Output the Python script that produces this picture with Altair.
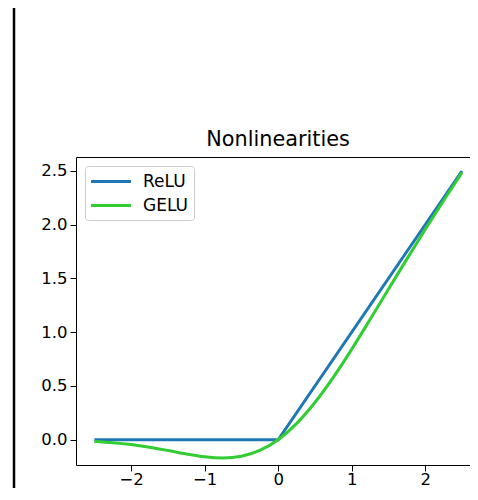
import altair as alt
import pandas as pd

# ReLU (piecewise linear)
relu_x = [-2.5, 0.0, 2.5]
relu_y = [0.0, 0.0, 2.5]

# GELU values
gelu_x = [-2.5, -2.25, -2.0, -1.75, -1.5, -1.25, -1.0, -0.75, -0.5, -0.25, 0.0,
          0.25, 0.5, 0.75, 1.0, 1.25, 1.5, 1.75, 2.0, 2.25, 2.5]
gelu_y = [-0.016, -0.027, -0.045, -0.070, -0.100, -0.132, -0.159, -0.170, -0.154, -0.100, 0.0,
          0.150, 0.346, 0.580, 0.841, 1.118, 1.400, 1.680, 1.955, 2.223, 2.484]

series = ["ReLU", "GELU"]
colors = ["#1f77b4", "#32cd32"]
x_ticks = [-2, -1, 0, 1, 2]
y_ticks = [0.0, 0.5, 1.0, 1.5, 2.0, 2.5]
title_text = "Nonlinearities"

relu_df = pd.DataFrame({"x": relu_x, "y": relu_y, "series": "ReLU"})
gelu_df = pd.DataFrame({"x": gelu_x, "y": gelu_y, "series": "GELU"})

FONT = "DejaVu Sans"
W, H = 394, 308

xscale = alt.Scale(domain=[-2.75, 2.61], nice=False, zero=False)
yscale = alt.Scale(domain=[-0.235, 2.63], nice=False, zero=False)

xaxis = alt.Axis(orient="bottom", values=x_ticks, title=None, grid=False, format="d",
                 labelExpr="replace(datum.label, '-', '\u2212')",
                 domainColor="black", tickColor="black", tickSize=6,
                 labelColor="black", labelFontSize=16.5, labelFont=FONT,
                 labelPadding=0, domainWidth=1, tickWidth=1)
yaxis = alt.Axis(values=y_ticks, title=None, grid=False, format=".1f",
                 domainColor="black", tickColor="black", tickSize=6,
                 labelColor="black", labelFontSize=16.5, labelFont=FONT,
                 labelPadding=3, domainWidth=1, tickWidth=1)

color = alt.Color("series:N", scale=alt.Scale(domain=series, range=colors),
                  legend=alt.Legend(title=None, orient="none", legendX=9, legendY=9,
                                    symbolType="M-1.19,0H3.81", symbolStrokeWidth=3,
                                    symbolSize=256, labelFontSize=17, labelFont=FONT,
                                    labelColor="black", labelOffset=33,
                                    labelExpr="datum.label + '\u2003'",
                                    strokeColor="#cccccc", fillColor="white",
                                    cornerRadius=3, padding=6, rowPadding=6))

relu = alt.Chart(relu_df).mark_line(strokeWidth=3, interpolate="linear").encode(
    x=alt.X("x:Q", scale=xscale, axis=xaxis),
    y=alt.Y("y:Q", scale=yscale, axis=yaxis),
    color=color,
)

gelu = alt.Chart(gelu_df).mark_line(strokeWidth=3, interpolate="monotone").encode(
    x=alt.X("x:Q", scale=xscale, axis=None),
    y=alt.Y("y:Q", scale=yscale, axis=yaxis),
    color=color,
)

top_axis = alt.Chart(relu_df).mark_point(opacity=0).encode(
    x=alt.X("x:Q", scale=xscale,
            axis=alt.Axis(orient="top", labels=False, ticks=False, title=None, grid=False,
                          domainColor="black", domainWidth=1)),
)

title = alt.Chart(pd.DataFrame({"t": [title_text]})).mark_text(
    font=FONT, fontSize=20.8, color="black", align="center", baseline="alphabetic"
).encode(x=alt.value(202), y=alt.value(-11), text="t:N")

frame_line = alt.Chart(pd.DataFrame({"a": [0]})).mark_rule(
    color="black", strokeWidth=2.5
).encode(x=alt.value(-62), y=alt.value(-152), y2=alt.value(340))

chart = alt.layer(relu, gelu, top_axis, title, frame_line).resolve_axis(x="independent").properties(
    width=W, height=H,
    padding={"left": 68, "top": 149, "right": 0, "bottom": 23},
    autosize=alt.AutoSizeParams(type="none"),
).configure_view(stroke=None).configure(background="white")

chart.save("out.html", embed_options={"renderer": "svg", "actions": False})
